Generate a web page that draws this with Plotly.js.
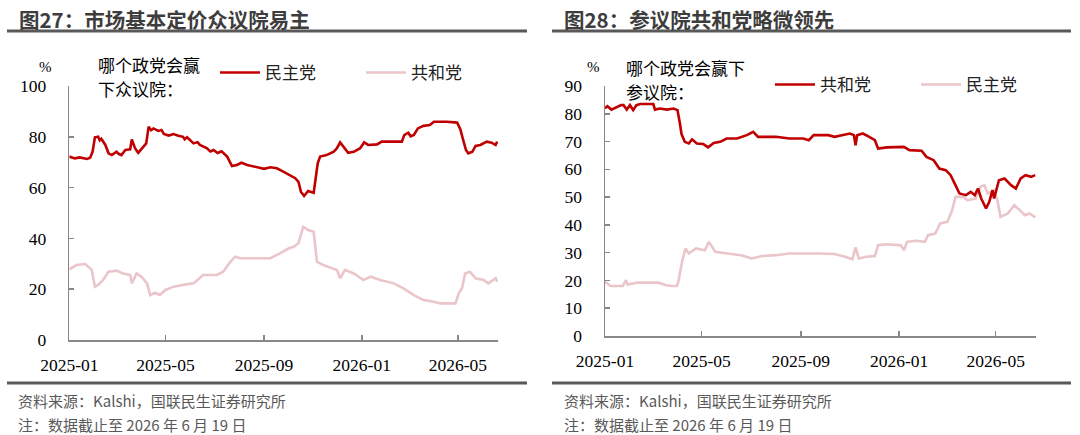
<!DOCTYPE html>
<html>
<head>
<meta charset="utf-8">
<script src="https://cdn.plot.ly/plotly-3.0.1.min.js"></script>
<style>
html,body{margin:0;padding:0;background:#fff;}
#chart{width:1080px;height:435px;}
#chart .xtick text, #chart .ytick text, #chart .x2tick text, #chart .y2tick text, #chart .serif-txt text {
  font-family: "Liberation Serif", "Times New Roman", Tinos, "DejaVu Serif", serif !important;
}
</style>
</head>
<body>
<div id="chart"></div>
<script>
// ---------- DATA ----------
var tickVals = ['2025-01-01','2025-05-01','2025-09-01','2026-01-01','2026-05-01'];
var tickText = ['2025-01','2025-05','2025-09','2026-01','2026-05'];
var xRange = ['2025-01-01','2026-06-20'];

// House: Democrats (red)
var houseDemDates = ['2025-01-01','2025-01-08','2025-01-14','2025-01-23','2025-01-27','2025-01-30','2025-02-02','2025-02-06','2025-02-08','2025-02-10','2025-02-15','2025-02-19','2025-02-23','2025-03-01','2025-03-04','2025-03-07','2025-03-12','2025-03-18','2025-03-20','2025-03-24','2025-03-28','2025-04-01','2025-04-07','2025-04-10','2025-04-13','2025-04-16','2025-04-22','2025-04-26','2025-04-29','2025-05-05','2025-05-11','2025-05-17','2025-05-23','2025-05-25','2025-05-28','2025-06-05','2025-06-10','2025-06-13','2025-06-22','2025-06-26','2025-06-30','2025-07-05','2025-07-10','2025-07-17','2025-07-23','2025-07-29','2025-08-04','2025-08-11','2025-08-23','2025-09-01','2025-09-09','2025-09-17','2025-09-25','2025-10-02','2025-10-10','2025-10-14','2025-10-17','2025-10-21','2025-10-26','2025-11-02','2025-11-05','2025-11-07','2025-11-10','2025-11-18','2025-11-27','2025-12-01','2025-12-05','2025-12-09','2025-12-15','2025-12-22','2025-12-30','2026-01-04','2026-01-09','2026-01-20','2026-01-26','2026-02-20','2026-02-23','2026-02-28','2026-03-03','2026-03-07','2026-03-12','2026-03-19','2026-03-27','2026-04-01','2026-04-17','2026-04-30','2026-05-04','2026-05-07','2026-05-11','2026-05-14','2026-05-19','2026-05-23','2026-05-29','2026-06-06','2026-06-12','2026-06-17','2026-06-19'];
var houseDem = [72.2,71.5,71.9,71.3,71.8,74.1,79.8,80.0,78.6,79.2,76.8,73.5,72.8,74.1,73.2,72.8,74.8,75.1,79.0,75.5,73.7,75.1,77.4,84.0,82.6,83.3,82.3,82.7,81.1,80.5,81.1,80.4,80.0,79.0,79.8,77.4,77.9,76.8,75.5,74.2,74.8,73.6,74.3,72.2,68.5,68.9,69.8,68.9,68.2,67.4,68.0,67.6,66.3,65.0,63.7,62.3,58.4,56.7,58.7,58.0,64.3,69.6,72.2,72.8,74.1,75.5,77.8,76.1,73.7,74.1,75.5,77.8,76.8,77.0,78.1,78.1,80.7,81.6,80.2,80.7,83.3,84.3,84.6,85.9,85.9,85.6,83.0,79.4,74.8,73.5,74.1,76.4,76.8,78.1,77.7,76.8,78.1];

// House: Republicans (pink)
var houseRepDates = ['2025-01-01','2025-01-10','2025-01-21','2025-01-25','2025-01-29','2025-02-02','2025-02-06','2025-02-12','2025-02-19','2025-03-01','2025-03-09','2025-03-18','2025-03-20','2025-03-26','2025-04-01','2025-04-08','2025-04-12','2025-04-18','2025-04-24','2025-05-01','2025-05-11','2025-05-23','2025-06-05','2025-06-17','2025-07-04','2025-07-12','2025-07-21','2025-07-27','2025-08-02','2025-08-19','2025-09-09','2025-09-21','2025-10-02','2025-10-08','2025-10-14','2025-10-20','2025-10-26','2025-11-02','2025-11-06','2025-11-14','2025-12-01','2025-12-05','2025-12-11','2025-12-22','2026-01-03','2026-01-12','2026-01-24','2026-02-10','2026-02-22','2026-03-07','2026-03-19','2026-04-01','2026-04-09','2026-04-28','2026-05-02','2026-05-06','2026-05-10','2026-05-16','2026-05-23','2026-06-02','2026-06-08','2026-06-14','2026-06-17','2026-06-19'];
var houseRep = [27.8,29.5,29.9,28.9,27.6,21.0,21.7,23.6,26.9,27.3,26.2,25.6,22.3,26.2,24.9,22.3,17.7,18.6,17.7,19.7,21.0,21.7,22.3,25.6,25.6,26.9,30.8,32.8,32.2,32.2,32.2,34.1,36.1,36.7,38.1,44.6,43.3,42.6,30.8,29.5,27.6,24.3,27.6,26.2,23.6,24.9,23.6,22.3,20.3,17.7,15.7,15.1,14.4,14.4,18.4,20.3,26.2,26.9,24.3,23.6,22.3,23.6,24.3,23.0];

// Senate: Republicans (red)
var senRepDates = ['2025-01-01','2025-01-04','2025-01-09','2025-01-15','2025-01-21','2025-01-24','2025-01-28','2025-02-01','2025-02-05','2025-02-09','2025-02-14','2025-03-02','2025-03-04','2025-03-10','2025-03-19','2025-03-27','2025-04-01','2025-04-04','2025-04-06','2025-04-10','2025-04-15','2025-04-19','2025-04-25','2025-05-03','2025-05-09','2025-05-16','2025-05-24','2025-06-01','2025-06-14','2025-06-26','2025-07-04','2025-07-10','2025-08-01','2025-08-18','2025-09-04','2025-09-11','2025-09-17','2025-10-05','2025-10-13','2025-10-22','2025-11-01','2025-11-06','2025-11-08','2025-11-10','2025-11-17','2025-11-25','2025-12-02','2025-12-06','2025-12-17','2026-01-07','2026-01-14','2026-01-29','2026-02-04','2026-02-13','2026-02-20','2026-02-28','2026-03-06','2026-03-12','2026-03-17','2026-03-25','2026-03-31','2026-04-05','2026-04-09','2026-04-13','2026-04-19','2026-04-23','2026-04-27','2026-04-29','2026-05-05','2026-05-12','2026-05-20','2026-05-26','2026-06-01','2026-06-07','2026-06-14','2026-06-19'];
var senRep = [82.0,82.7,81.5,82.3,83.1,83.1,81.5,83.1,81.3,83.1,83.5,83.5,81.5,81.9,81.5,81.9,81.3,76.5,72.7,69.9,69.3,70.8,69.3,69.1,67.9,69.5,69.9,71.1,71.1,72.3,73.5,71.7,71.7,71.1,71.1,70.5,72.3,72.3,71.7,72.3,72.9,72.3,68.7,72.3,72.9,71.7,70.5,67.5,67.9,68.1,66.9,66.7,64.5,63.3,60.3,59.7,57.9,54.3,51.3,50.7,51.9,50.7,53.1,49.5,45.9,48.3,52.5,49.5,56.1,56.7,54.3,53.1,56.7,57.9,57.3,57.9];

// Senate: Democrats (pink)
var senDemDates = ['2025-01-01','2025-01-08','2025-01-23','2025-01-27','2025-01-29','2025-02-10','2025-03-08','2025-03-18','2025-03-25','2025-03-31','2025-04-02','2025-04-07','2025-04-11','2025-04-15','2025-04-24','2025-05-05','2025-05-10','2025-05-18','2025-06-02','2025-06-19','2025-07-02','2025-07-15','2025-08-01','2025-08-18','2025-09-22','2025-10-13','2025-10-26','2025-11-04','2025-11-08','2025-11-12','2025-11-21','2025-12-02','2025-12-06','2025-12-17','2026-01-03','2026-01-07','2026-01-11','2026-01-22','2026-02-02','2026-02-06','2026-02-15','2026-02-21','2026-03-02','2026-03-08','2026-03-12','2026-03-21','2026-03-27','2026-04-06','2026-04-12','2026-04-17','2026-04-21','2026-04-29','2026-05-03','2026-05-07','2026-05-16','2026-05-24','2026-05-31','2026-06-06','2026-06-12','2026-06-19'];
var senDem = [19.5,18.0,18.0,20.1,18.5,19.2,19.2,18.3,18.0,18.0,19.5,27.3,31.5,29.7,31.5,30.9,33.9,30.3,29.7,29.1,27.9,28.8,29.1,29.7,29.7,29.5,28.5,27.6,31.9,27.9,28.5,28.8,32.7,33.0,32.7,30.9,33.9,34.3,33.9,36.3,36.9,40.5,41.1,45.3,50.1,50.1,48.9,49.5,53.7,54.3,51.3,52.5,48.9,42.9,44.1,47.1,45.3,43.5,44.1,42.7];

// ---------- STYLE ----------
var RED = '#C00000';
var PINK = '#EAC5C9';
var W = 1080, H = 435;
function X(px){ return px / W; }
function Y(py){ return 1 - py / H; }

var serif = '"Liberation Serif", "Times New Roman", Tinos, "DejaVu Serif", serif';
var tickFont = {family: serif, size: 17.5, color: '#000'};
var cjk = 'Noto Sans CJK SC';

var traces = [
  {x: houseRepDates, y: houseRep, name: '共和党', type: 'scatter', mode: 'lines',
   line: {color: PINK, width: 2.6}, xaxis: 'x', yaxis: 'y', legend: 'legend2'},
  {x: houseDemDates, y: houseDem, name: '民主党', type: 'scatter', mode: 'lines',
   line: {color: RED, width: 2.6}, xaxis: 'x', yaxis: 'y', legend: 'legend'},
  {x: senDemDates, y: senDem, name: '民主党', type: 'scatter', mode: 'lines',
   line: {color: PINK, width: 2.6}, xaxis: 'x2', yaxis: 'y2', legend: 'legend4'},
  {x: senRepDates, y: senRep, name: '共和党', type: 'scatter', mode: 'lines',
   line: {color: RED, width: 2.6}, xaxis: 'x2', yaxis: 'y2', legend: 'legend3'}
];

function xAxis(dom, anchor){
  return {domain: dom, anchor: anchor, type: 'date', range: xRange,
    tickmode: 'array', tickvals: tickVals, ticktext: tickText,
    ticks: 'inside', ticklen: 5, tickwidth: 1.5, tickcolor: '#888',
    showline: true, linecolor: '#888', linewidth: 1.5,
    showgrid: false, zeroline: false, tickfont: tickFont,
    ticklabelstandoff: 8, fixedrange: true};
}
function yAxis(dom, anchor, maxV, dt){
  return {domain: dom, anchor: anchor, range: [0, maxV], dtick: dt, tick0: 0,
    ticks: 'inside', ticklen: 5, tickwidth: 1.5, tickcolor: '#888',
    showline: true, linecolor: '#888', linewidth: 1.5,
    showgrid: false, zeroline: false, tickfont: tickFont,
    ticklabelstandoff: 18, fixedrange: true};
}
function leg(xpx, ypx){
  return {x: X(xpx), y: Y(ypx), xanchor: 'left', yanchor: 'middle',
    orientation: 'h', bgcolor: 'rgba(0,0,0,0)', borderwidth: 0, itemwidth: 40,
    font: {family: cjk, size: 17, color: '#222'}};
}

function ann(text, xpx, ypx, font, xanchor){
  return {text: text, x: X(xpx), y: Y(ypx), xref: 'paper', yref: 'paper', borderpad: 0,
    xanchor: xanchor || 'left', yanchor: 'middle', align: 'left', showarrow: false, font: font};
}
var titleFont = {family: cjk, size: 20.5, color: '#3d3d3d', weight: 'bold'};
var noteFont = {family: cjk, size: 15, color: '#595959'};
var subFont = {family: cjk, size: 17, color: '#000'};
var pctFont = {family: serif, size: 15, color: '#000'};

var annotations = [
  ann('图27：市场基本定价众议院易主', 18, 19, titleFont),
  ann('图28：参议院共和党略微领先', 563, 19, titleFont),
  ann('%', 45, 67, pctFont, 'center'),
  ann('哪个政党会赢', 97, 64, subFont),
  ann('下众议院：', 97, 88.5, subFont),
  ann('%', 593, 67, pctFont, 'center'),
  ann('哪个政党会赢下', 625, 67, subFont),
  ann('参议院：', 625, 91.5, subFont),
  ann('资料来源：Kalshi，国联民生证券研究所', 17, 400, noteFont),
  ann('注：数据截止至 2026 年 6 月 19 日', 17, 424, noteFont),
  ann('资料来源：Kalshi，国联民生证券研究所', 563, 400, noteFont),
  ann('注：数据截止至 2026 年 6 月 19 日', 563, 424, noteFont)
];

function hline(x0, x1, ypx){
  return {type: 'line', xref: 'paper', yref: 'paper', x0: X(x0), x1: X(x1), y0: Y(ypx), y1: Y(ypx),
    line: {color: '#595959', width: 3}};
}
var shapes = [hline(7, 527, 31), hline(552, 1071, 31), hline(7, 527, 383), hline(552, 1071, 383)];

var layout = {
  width: W, height: H, margin: {l: 0, r: 0, t: 0, b: 0},
  paper_bgcolor: '#fff', plot_bgcolor: '#fff',
  font: {family: cjk},
  showlegend: true, hovermode: false,
  xaxis: xAxis([X(69.3), X(498)], 'y'),
  yaxis: yAxis([Y(340), Y(86)], 'x', 100, 20),
  xaxis2: xAxis([X(605), X(1036)], 'y2'),
  yaxis2: yAxis([Y(336), Y(86)], 'x2', 90, 10),
  legend: leg(215, 73),
  legend2: leg(361, 73),
  legend3: leg(770, 85),
  legend4: leg(916, 85),
  annotations: annotations,
  shapes: shapes
};

Plotly.newPlot('chart', traces, layout, {displayModeBar: false, staticPlot: true});
</script>
</body>
</html>
